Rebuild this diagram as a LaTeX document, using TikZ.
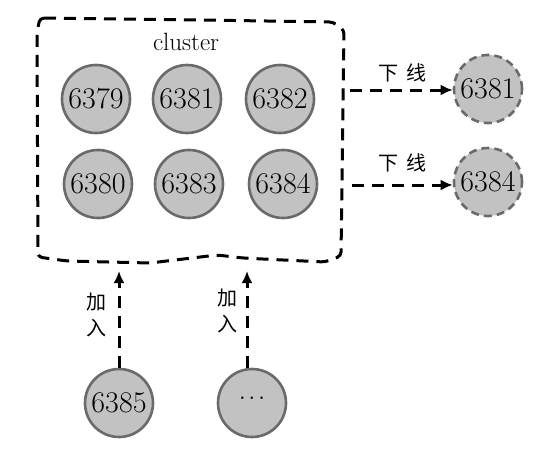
\documentclass[tikz,border=0pt]{standalone}
\usepackage{fontspec}
\newfontfamily\cjk{Noto Sans CJK SC}
\usetikzlibrary{arrows.meta}
\definecolor{nodefill}{HTML}{C2C2C2}
\definecolor{nodeedge}{HTML}{6A6A6A}
\tikzset{
  srv/.style={circle, fill=nodefill, draw=nodeedge, line width=2.6pt, minimum size=68pt, inner sep=0pt, font=\fontsize{30}{30}\selectfont},
  offsrv/.style={srv, dashed, dash pattern=on 8pt off 5pt},
  bigdash/.style={line width=3pt, dash pattern=on 12pt off 8pt},
  conn/.style={bigdash, -{Latex[length=12pt,width=11pt]}},
  lab/.style={font=\cjk\fontsize{20}{20}\selectfont, inner sep=0pt},
}
\begin{document}
\begin{tikzpicture}[x=1pt,y=-1pt]
\useasboundingbox (0,0) rectangle (546,452);
% cluster boundary
\draw[bigdash, rounded corners=4pt] (40,18) -- (200,20) -- (333,22) -- (344,30) -- (341,256)
  -- (325,262) -- (283,260) -- (243,258) -- (217,255) -- (150,263) -- (67,261) -- (38,257) -- (37,32) -- cycle;
\node[inner sep=0pt, font=\fontsize{25}{25}\selectfont] (cl) at (186,42) {cluster};
% cluster nodes
\node[srv] (a) at (96,99) {6379};
\node[srv] (b) at (187,99) {6381};
\node[srv] (c) at (280,99) {6382};
\node[srv] (d) at (98,184) {6380};
\node[srv] (e) at (189,184) {6383};
\node[srv] (f) at (283,184) {6384};
% offline nodes
\node[offsrv] (g) at (488,89) {6381};
\node[offsrv] (h) at (488,182) {6384};
\coordinate (s1) at (350,90);
\coordinate (s2) at (352,185);
\draw[conn] (s1) -- (g.west |- s1);
\draw[conn] (s2) -- (h.west |- s2);
\node[lab] (l1) at (402,73) {下\hspace{8pt}线};
\node[lab] (l2) at (402,163) {下\hspace{8pt}线};
% joining nodes
\node[srv] (j1) at (119,403) {6385};
\node[srv] (j2) at (252,403) {·\kern-12pt·\kern-12pt·};
\coordinate (t1) at (119,271);
\coordinate (t2) at (247,271);
\draw[conn] (j1.north) -- (t1);
\draw[conn] (j2.north -| t2) -- (t2);
\node[lab] (m1) at (96,302) {加};
\node[lab] (m2) at (96,328) {入};
\node[lab] (m3) at (227,298) {加};
\node[lab] (m4) at (227,324) {入};
\end{tikzpicture}
\end{document}
